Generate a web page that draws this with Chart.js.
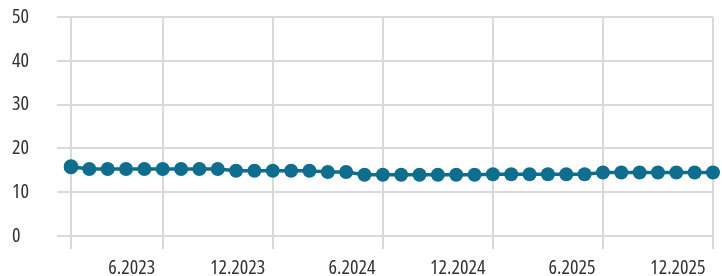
<!DOCTYPE html>
<html>
<head>
<meta charset="utf-8">
<script src="https://cdn.jsdelivr.net/npm/chart.js@4.4.1/dist/chart.umd.min.js"></script>
<style>
  body { margin: 0; background: #fff; }
</style>
</head>
<body>
<canvas id="lineChart" width="722" height="276"></canvas>
<script>
var MONTHS = [
    '1.2023', '2.2023', '3.2023', '4.2023', '5.2023', '6.2023',
    '7.2023', '8.2023', '9.2023', '10.2023', '11.2023', '12.2023',
    '1.2024', '2.2024', '3.2024', '4.2024', '5.2024', '6.2024',
    '7.2024', '8.2024', '9.2024', '10.2024', '11.2024', '12.2024',
    '1.2025', '2.2025', '3.2025', '4.2025', '5.2025', '6.2025',
    '7.2025', '8.2025', '9.2025', '10.2025', '11.2025', '12.2025'
];

var VALUES = [
    15.8, 15.3, 15.3, 15.3, 15.3, 15.3,
    15.3, 15.3, 15.3, 14.9, 14.9, 14.9,
    14.9, 14.9, 14.6, 14.6, 14.0, 14.0,
    14.0, 14.0, 14.0, 14.0, 14.0, 14.1,
    14.1, 14.1, 14.1, 14.1, 14.1, 14.5,
    14.5, 14.5, 14.5, 14.5, 14.5, 14.5
];

// shown on the x axis, with a grid line at each (plus the first month)
var TICK_LABELS = ['6.2023', '12.2023', '6.2024', '12.2024', '6.2025', '12.2025'];

// 'condensed' ends up in the canvas font string -> Open Sans narrow width
var FONT = { family: "'Open Sans', sans-serif", size: 20, weight: 'condensed' };
var GRID = '#d9d9d9';

var ctx = document.getElementById('lineChart').getContext('2d');
window.myLine = new Chart(ctx, {
    type: 'line',
    data: {
        labels: MONTHS,
        datasets: [{
            data: VALUES,
            borderColor: '#0f6d8d',
            backgroundColor: '#0f6d8d',
            borderWidth: 3.5,
            pointRadius: function (c) { return c.dataIndex === 0 ? 7.5 : 7; },
            pointBorderWidth: 0,
            tension: 0
        }]
    },
    options: {
        responsive: false,
        animation: false,
        layout: {
            padding: { left: 12, right: 9, top: 17, bottom: 0 }
        },
        plugins: {
            legend: { display: false },
            tooltip: { enabled: false }
        },
        scales: {
            x: {
                offset: false,
                border: { display: false },
                afterFit: function (scale) { scale.height = 40; },
                grid: {
                    lineWidth: 2,
                    tickLength: 13,
                    color: function (c) {
                        var lbl = MONTHS[c.index];
                        return (c.index === 0 || TICK_LABELS.indexOf(lbl) >= 0) ? GRID : 'rgba(0,0,0,0)';
                    }
                },
                ticks: {
                    autoSkip: false,
                    maxRotation: 0,
                    align: 'end',
                    padding: 7,
                    color: '#333',
                    font: FONT,
                    callback: function (v, i) {
                        var lbl = MONTHS[i];
                        return TICK_LABELS.indexOf(lbl) >= 0 ? lbl + '  ' : '';
                    }
                }
            },
            y: {
                min: 0,
                max: 50,
                border: { display: false },
                afterFit: function (scale) { scale.width = 59; },
                grid: {
                    color: GRID,
                    lineWidth: 2,
                    tickLength: 14
                },
                ticks: {
                    stepSize: 10,
                    crossAlign: 'far',
                    padding: 0,
                    color: '#333',
                    font: FONT
                }
            }
        }
    }
});
</script>
</body>
</html>
